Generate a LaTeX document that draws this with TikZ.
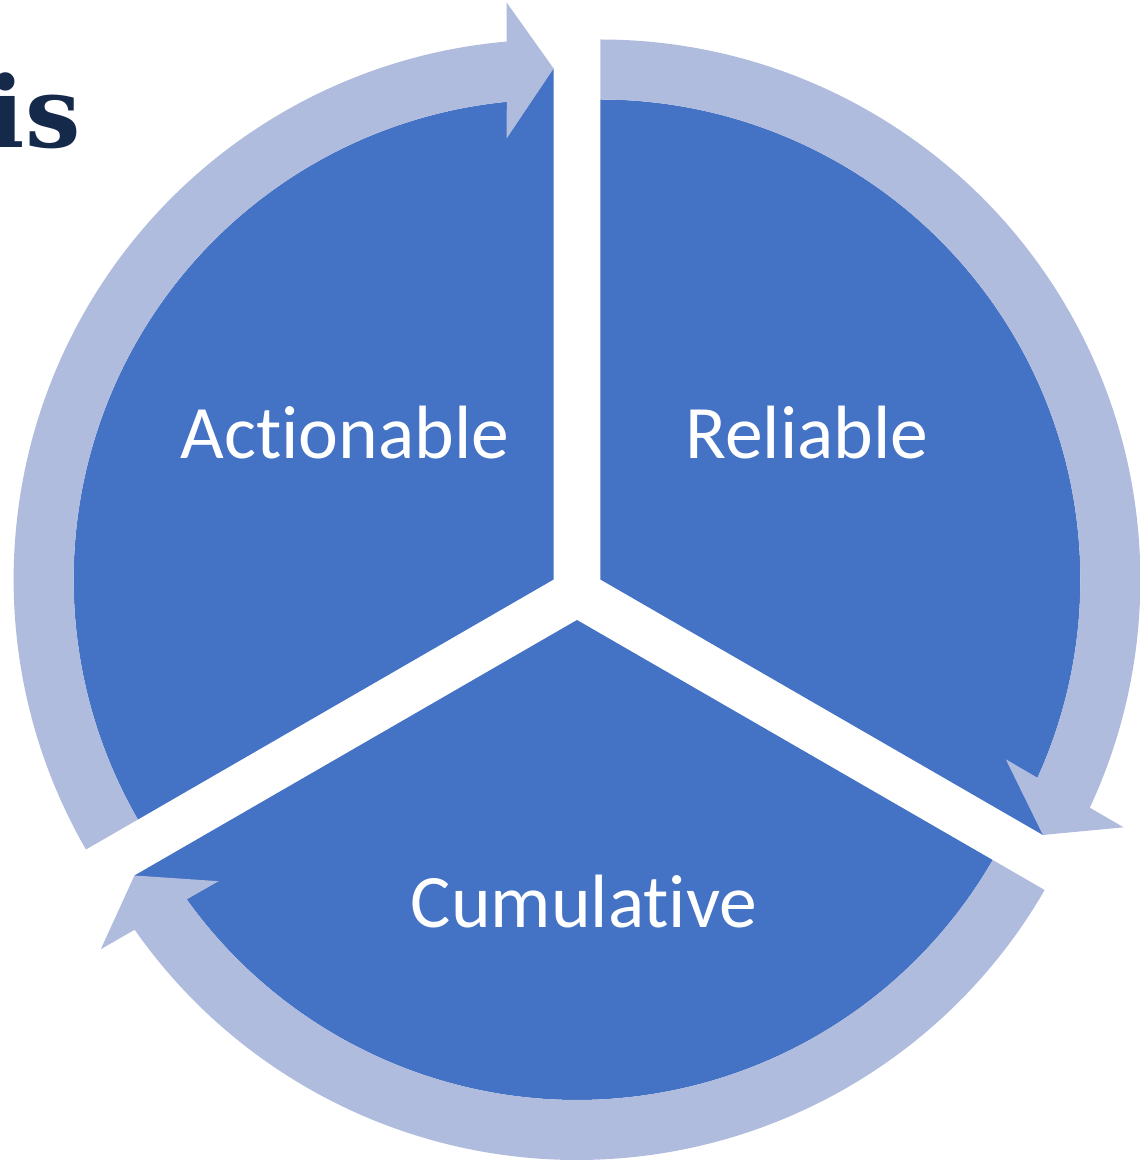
\documentclass[tikz,border=0pt]{standalone}
\usepackage{fontspec}
\setmainfont{Carlito}[Ligatures=NoCommon]
\newfontfamily\headfont{DejaVu Serif}
\usetikzlibrary{calc}
\definecolor{wheelblue}{RGB}{68,114,196}
\definecolor{ringblue}{RGB}{176,188,222}
\definecolor{headnavy}{RGB}{21,41,75}
\tikzset{
  sector/.style={fill=wheelblue},
  ringarrow/.style={fill=ringblue},
  sectorlabel/.style={text=white, anchor=base, inner sep=0pt, font=\fontsize{43}{43}\selectfont}
}
\begin{document}
\begin{tikzpicture}[x=0.02cm,y=0.02cm]
  \useasboundingbox (0,0) rectangle (1140,1161);
  % heading, cut off at the left edge
  \node[anchor=base east, inner sep=0pt, text=headnavy, font=\headfont\bfseries\fontsize{56}{56}\selectfont] (heading) at (81,1013) {is};
  % wheel centre and the pushed-out apex of each slice
  \coordinate (mid) at (577,568);
  \coordinate (apexTL) at ($(mid)+(150:27)$);
  \coordinate (apexTR) at ($(mid)+(30:27)$);
  \coordinate (apexB) at ($(mid)+(270:27)$);
  % slices, each edge runs out to the arrow tip lying on it
  \fill[sector] (apexTL) -- ($(apexTL)+(90:511)$) -- ($(apexTL)+(95.6:480)$) arc[start angle=95.6,end angle=210,radius=480] -- cycle;
  \fill[sector] (apexTR) -- ($(apexTR)+(-30:511)$) -- ($(apexTR)+(-24.4:480)$) arc[start angle=-24.4,end angle=90,radius=480] -- cycle;
  \fill[sector] (apexB) -- ($(apexB)+(210:511)$) -- ($(apexB)+(215.6:480)$) arc[start angle=215.6,end angle=330,radius=480] -- cycle;
  % curved arrows, clockwise round each slice
  \fill[ringarrow] ($(apexTL)+(210:540)$) arc[start angle=210,end angle=95,radius=540]
    -- ($(apexTL)+(90:577)+(180:47)$) -- ($(apexTL)+(90:511)$) -- ($(apexTL)+(90:441)+(180:47)$)
    -- ($(apexTL)+(95.6:480)$) arc[start angle=95.6,end angle=210,radius=480] -- cycle;
  \fill[ringarrow] ($(apexTR)+(90:540)$) arc[start angle=90,end angle=-25,radius=540]
    -- ($(apexTR)+(-30:577)+(60:47)$) -- ($(apexTR)+(-30:511)$) -- ($(apexTR)+(-30:441)+(60:47)$)
    -- ($(apexTR)+(-24.4:480)$) arc[start angle=-24.4,end angle=90,radius=480] -- cycle;
  \fill[ringarrow] ($(apexB)+(-30:540)$) arc[start angle=-30,end angle=-145,radius=540]
    -- ($(apexB)+(-150:577)+(-60:47)$) -- ($(apexB)+(-150:511)$) -- ($(apexB)+(-150:441)+(-60:47)$)
    -- ($(apexB)+(-144.4:480)$) arc[start angle=-144.4,end angle=-30,radius=480] -- cycle;
  % labels
  \node[sectorlabel] (actionable) at (345,702) {Actionable};
  \node[sectorlabel] (reliable) at (807,702) {Reliable};
  \node[sectorlabel] (cumulative) at (584,233) {Cumulative};
\end{tikzpicture}
\end{document}
